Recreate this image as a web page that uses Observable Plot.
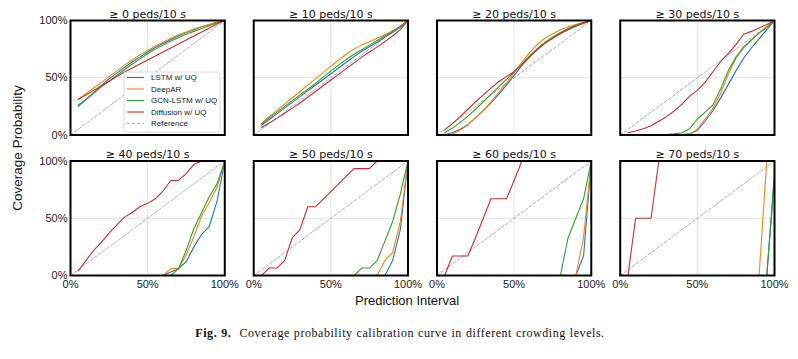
<!DOCTYPE html>
<html><head><meta charset="utf-8">
<script src="https://cdn.jsdelivr.net/npm/d3@7"></script>
<script src="https://cdn.jsdelivr.net/npm/@observablehq/plot@0.6"></script>
<style>
body{margin:0;background:#fff;}
#wrap{position:relative;width:798px;height:359px;overflow:hidden;}
#caption{position:absolute;top:326px;left:0;width:800px;text-align:center;font-family:"Liberation Serif","DejaVu Serif",serif;font-size:12px;letter-spacing:0.55px;word-spacing:0.5px;color:#111;}
</style></head><body>
<div id="wrap"><div id="chart"></div><div id="caption"><b>Fig. 9.</b>&nbsp; Coverage probability calibration curve in different crowding levels.</div></div>
<script>
// Prediction interval levels (x)
const xs = [0.05,0.10,0.15,0.20,0.25,0.30,0.35,0.40,0.45,0.50,0.55,0.60,0.65,0.70,0.75,0.80,0.85,0.90,0.95,1.00];
// Crowding thresholds (peds/10 s), one panel each
const thresholds = [0,10,20,30,40,50,60,70];
const models = ["LSTM w/ UQ","DeepAR","GCN-LSTM w/ UQ","Diffusion w/ UQ"];
const colors = ["#1f77b4","#ff7f0e","#2ca02c","#d62728"];
const refX = [0,1];
const refY = [0,1];
const tickValues = [0,0.5,1];

// Coverage probability per panel (rows = thresholds)
const lstm = [
  [0.25,0.31,0.37,0.43,0.49,0.54,0.59,0.64,0.68,0.725,0.765,0.80,0.835,0.865,0.895,0.92,0.945,0.965,0.985,1],
  [0.085,0.135,0.185,0.235,0.285,0.335,0.385,0.435,0.485,0.535,0.585,0.635,0.685,0.73,0.77,0.81,0.855,0.895,0.94,1],
  [0.005,0.02,0.05,0.09,0.15,0.21,0.28,0.355,0.435,0.52,0.605,0.685,0.75,0.805,0.85,0.89,0.925,0.955,0.98,1],
  [0,0,0,0,0,0,0,0.005,0.01,0.04,0.12,0.21,0.32,0.44,0.56,0.67,0.76,0.84,0.92,1],
  [0,0,0,0,0,0,0,0,0,0,0,0,0.03,0.06,0.12,0.25,0.36,0.43,0.65,1],
  [0,0,0,0,0,0,0,0,0,0,0,0,0,0,0,0,0,0.13,0.40,1],
  [0,0,0,0,0,0,0,0,0,0,0,0,0,0,0,0,0,0,0.17,1],
  [0,0,0,0,0,0,0,0,0,0,0,0,0,0,0,0,0,0,0,0.85]
];
const deepar = [
  [0.31,0.36,0.41,0.46,0.51,0.56,0.61,0.655,0.70,0.74,0.775,0.81,0.845,0.875,0.90,0.925,0.945,0.965,0.985,1],
  [0.10,0.16,0.215,0.27,0.325,0.38,0.435,0.49,0.545,0.60,0.655,0.705,0.75,0.785,0.815,0.845,0.875,0.91,0.95,1],
  [0.0,0.012,0.04,0.09,0.15,0.215,0.29,0.37,0.455,0.545,0.635,0.72,0.79,0.845,0.885,0.92,0.945,0.965,0.985,1],
  [0,0,0,0,0,0,0,0,0.01,0.05,0.14,0.23,0.36,0.53,0.67,0.76,0.83,0.89,0.945,1],
  [0,0,0,0,0,0,0,0,0,0,0,0,0.06,0.06,0.18,0.34,0.52,0.64,0.77,1],
  [0,0,0,0,0,0,0,0,0,0,0,0,0,0,0,0,0.13,0.20,0.47,1],
  [0,0,0,0,0,0,0,0,0,0,0,0,0,0,0,0,0,0,0.33,1],
  [0,0,0,0,0,0,0,0,0,0,0,0,0,0,0,0,0,0,1,1]
];
const gcn = [
  [0.26,0.31,0.365,0.42,0.47,0.52,0.57,0.62,0.665,0.71,0.75,0.785,0.82,0.85,0.88,0.905,0.93,0.955,0.978,1],
  [0.095,0.15,0.2,0.25,0.30,0.35,0.40,0.45,0.505,0.56,0.61,0.66,0.705,0.745,0.785,0.825,0.865,0.905,0.95,1],
  [0.02,0.06,0.11,0.165,0.225,0.29,0.355,0.42,0.485,0.55,0.62,0.69,0.755,0.81,0.855,0.895,0.93,0.96,0.98,1],
  [0,0,0,0,0.002,0.005,0.01,0.02,0.055,0.14,0.2,0.26,0.4,0.56,0.68,0.77,0.83,0.89,0.94,1],
  [0,0,0,0,0,0,0,0,0,0,0,0,0,0.06,0.22,0.41,0.55,0.69,0.80,1],
  [0,0,0,0,0,0,0,0,0,0,0,0,0,0.065,0.065,0.13,0.30,0.47,0.71,1],
  [0,0,0,0,0,0,0,0,0,0,0,0,0,0,0,0,0.33,0.50,0.67,1],
  [0,0,0,0,0,0,0,0,0,0,0,0,0,0,0,0,0,0,0,0.9]
];
const diffusion = [
  [0.31,0.35,0.39,0.43,0.47,0.51,0.55,0.585,0.62,0.655,0.69,0.725,0.76,0.795,0.83,0.865,0.90,0.935,0.97,1],
  [0.065,0.105,0.145,0.19,0.235,0.28,0.33,0.38,0.43,0.48,0.53,0.58,0.63,0.68,0.725,0.77,0.815,0.865,0.92,1],
  [0.045,0.1,0.16,0.225,0.29,0.35,0.41,0.465,0.51,0.555,0.615,0.68,0.745,0.80,0.845,0.885,0.92,0.95,0.975,1],
  [0.02,0.035,0.055,0.08,0.12,0.16,0.21,0.27,0.34,0.39,0.46,0.55,0.64,0.71,0.79,0.88,0.905,0.935,0.965,1],
  [0.04,0.13,0.22,0.29,0.37,0.44,0.51,0.55,0.60,0.63,0.67,0.74,0.83,0.83,0.89,0.97,1,1,1,1],
  [0,0.065,0.065,0.13,0.33,0.40,0.60,0.60,0.667,0.733,0.80,0.867,0.933,0.933,0.933,1,1,1,1,1],
  [0,0.17,0.17,0.17,0.33,0.50,0.67,0.67,0.67,0.83,1,1,1,1,1,1,1,1,1,1],
  [0,0.5,0.5,0.5,1,1,1,1,1,1,1,1,1,1,1,1,1,1,1,1]
];
const series = [lstm, deepar, gcn, diffusion];

const rows = [];
series.forEach((s, m) => s.forEach((vals, p) => vals.forEach((v, i) => {
  rows.push({model: models[m], x: xs[i], y: v, col: p % 4, row: Math.floor(p / 4)});
})));
const titles = thresholds.map((t, p) => ({col: p % 4, row: Math.floor(p / 4), label: `≥ ${t} peds/10 s`}));
const ref = refX.map((x, i) => ({x, y: refY[i]}));

const pct = d3.format(".0%");
const svg = Plot.plot({
  width: 798, height: 314,
  marginLeft: 70, marginRight: 24, marginTop: 20, marginBottom: 39,
  style: {fontFamily: "'Liberation Sans', Arial, sans-serif", fontSize: "11px", color: "#222", background: "white"},
  fx: {domain: [0,1,2,3], paddingInner: 0.158, paddingOuter: 0, round: false, axis: null},
  fy: {domain: [0,1], paddingInner: 0.185, paddingOuter: 0, round: false, axis: null},
  x: {domain: [0,1], ticks: tickValues, tickFormat: pct, tickSize: 0, tickPadding: 5, label: null},
  y: {domain: [0,1], ticks: tickValues, tickFormat: pct, tickSize: 0, tickPadding: 3, label: null},
  color: {domain: models, range: colors},
  marks: [
    Plot.ruleX(tickValues, {stroke: "#e3e3e3", strokeWidth: 1}),
    Plot.ruleY(tickValues, {stroke: "#e3e3e3", strokeWidth: 1}),
    Plot.line(ref, {x: "x", y: "y", stroke: "#999", strokeWidth: 0.8, strokeDasharray: "3,2"}),
    Plot.line(rows, {x: "x", y: "y", z: "model", stroke: "model", fx: "col", fy: "row", strokeWidth: 1.1}),
    Plot.frame({stroke: "black", strokeWidth: 2}),
    Plot.text(titles, {fx: "col", fy: "row", frameAnchor: "top", lineAnchor: "bottom", dy: -3, text: "label", fontSize: 11, fontFamily: "'DejaVu Sans', sans-serif", fill: "#111", ariaLabel: "facet-title"})
  ]
});
document.getElementById("chart").appendChild(svg);

// italic parts of facet titles
d3.select(svg).selectAll('g[aria-label="facet-title"] text').each(function() {
  const t = d3.select(this);
  const m = t.text().match(/^≥ (\d+) peds\/10 s$/);
  if (!m) return;
  t.text(null);
  t.append("tspan").text(`≥ ${m[1]} `);
  t.append("tspan").attr("font-style", "italic").text("peds");
  t.append("tspan").text("/10 ");
  t.append("tspan").attr("font-style", "italic").text("s");
});

const root = d3.select(svg);
root.append("text").attr("x", 407).attr("y", 305).attr("text-anchor", "middle")
  .attr("font-size", 13).attr("fill", "#111").text("Prediction Interval");
root.append("text").attr("transform", "translate(22,148) rotate(-90)").attr("text-anchor", "middle")
  .attr("font-size", 13.5).attr("fill", "#111").text("Coverage Probability");

// legend inside first panel
const lg = root.append("g").attr("transform", "translate(124,72)").attr("text-anchor", "start");
lg.append("rect").attr("width", 96).attr("height", 60).attr("rx", 2)
  .attr("fill", "white").attr("fill-opacity", 0.85).attr("stroke", "#d0d0d0").attr("stroke-width", 0.8);
const legendItems = models.map((m, i) => ({label: m, color: colors[i], dash: null})).concat([{label: "Reference", color: "#999", dash: "3,2"}]);
legendItems.forEach((d, i) => {
  const y = 5.5 + i * 11.5;
  lg.append("line").attr("x1", 3).attr("x2", 20).attr("y1", y).attr("y2", y)
    .attr("stroke", d.color).attr("stroke-width", d.dash ? 0.8 : 1.1).attr("stroke-dasharray", d.dash);
  lg.append("text").attr("x", 27).attr("y", y).attr("dy", "0.35em").attr("text-anchor", "start")
    .attr("font-size", 8).attr("fill", "#222").text(d.label);
});
</script>
</body></html>
